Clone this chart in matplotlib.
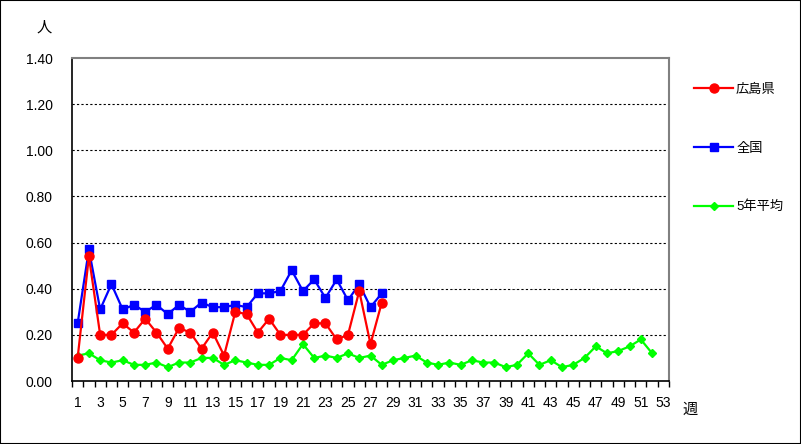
import matplotlib
matplotlib.use('Agg')
import matplotlib.pyplot as plt
from matplotlib.patches import Rectangle

plt.rcParams['font.family'] = ['Liberation Sans', 'Noto Sans CJK JP', 'DejaVu Sans']

# weekly values (per sentinel)
hiroshima = [0.10, 0.54, 0.20, 0.20, 0.25, 0.21, 0.27, 0.21, 0.14, 0.23,
             0.21, 0.14, 0.21, 0.11, 0.30, 0.29, 0.21, 0.27, 0.20, 0.20,
             0.20, 0.25, 0.25, 0.18, 0.20, 0.39, 0.16, 0.34]
zenkoku = [0.25, 0.57, 0.31, 0.42, 0.31, 0.33, 0.30, 0.33, 0.29, 0.33,
           0.30, 0.34, 0.32, 0.32, 0.33, 0.32, 0.38, 0.38, 0.39, 0.48,
           0.39, 0.44, 0.36, 0.44, 0.35, 0.42, 0.32, 0.38]
avg5 = [0.11, 0.12, 0.09, 0.08, 0.09, 0.07, 0.07, 0.08, 0.06, 0.08,
        0.08, 0.10, 0.10, 0.07, 0.09, 0.08, 0.07, 0.07, 0.10, 0.09,
        0.16, 0.10, 0.11, 0.10, 0.12, 0.10, 0.11, 0.07, 0.09, 0.10,
        0.11, 0.08, 0.07, 0.08, 0.07, 0.09, 0.08, 0.08, 0.06, 0.07,
        0.12, 0.07, 0.09, 0.06, 0.07, 0.10, 0.15, 0.12, 0.13, 0.15,
        0.18, 0.12]
n_weeks = 53
series_names = ['広島県', '全国', '5年平均']

fig = plt.figure(figsize=(8.01, 4.44), dpi=100)
ax = fig.add_axes([72 / 801, 63 / 444, 597 / 801, 323 / 444])

ax.plot(range(1, len(hiroshima) + 1), hiroshima, color='#FF0000', marker='o',
        markersize=6.5, linewidth=1.6, label=series_names[0], zorder=4)
ax.plot(range(1, len(zenkoku) + 1), zenkoku, color='#0000FF', marker='s',
        markersize=5.5, linewidth=1.6, label=series_names[1], zorder=3)
ax.plot(range(1, len(avg5) + 1), avg5, color='#00FF00', marker='D',
        markersize=4.5, linewidth=1.6, label=series_names[2], zorder=2)

ax.set_xlim(0.5, n_weeks + 0.5)
ax.set_ylim(0, 1.4)

# y axis
ax.set_yticks([i * 0.2 for i in range(8)])
ax.set_yticklabels([f'{i * 0.2:.2f}' for i in range(8)], fontsize=10)
ax.tick_params(axis='y', length=0, pad=14)
for v in [i * 0.2 for i in range(1, 7)]:
    ax.axhline(v, color='black', linestyle=(0, (2, 2)), linewidth=0.8, zorder=1)

# x axis: ticks between categories, labels on odd weeks
ax.set_xticks([i + 0.5 for i in range(n_weeks + 1)])
ax.set_xticklabels([])
ax.tick_params(axis='x', which='major', direction='out', length=4, width=1)
ax.set_xticks(list(range(1, n_weeks + 1, 2)), minor=True)
ax.set_xticklabels([str(i) for i in range(1, n_weeks + 1, 2)], minor=True, fontsize=10)
ax.tick_params(axis='x', which='minor', length=0, pad=11)

for s in ['top', 'right']:
    ax.spines[s].set_color('#808080')
    ax.spines[s].set_linewidth(1.5)
for s in ['left', 'bottom']:
    ax.spines[s].set_color('black')
    ax.spines[s].set_linewidth(1.2)

fig.text(44 / 801, 1 - 28 / 444, '人', fontsize=11, ha='center', va='center')
fig.text(690 / 801, 1 - 410 / 444, '週', fontsize=11, ha='center', va='center')

leg = fig.legend(loc='upper left', bbox_to_anchor=(682 / 801, 1 - 72 / 444),
                 frameon=False, fontsize=9.5, labelspacing=3.5,
                 handlelength=3.0, handletextpad=0.2)

fig.patches.append(Rectangle((0, 0), 1, 1, transform=fig.transFigure,
                             fill=False, edgecolor='black', linewidth=1.5))

fig.savefig('out.png', dpi=100)
